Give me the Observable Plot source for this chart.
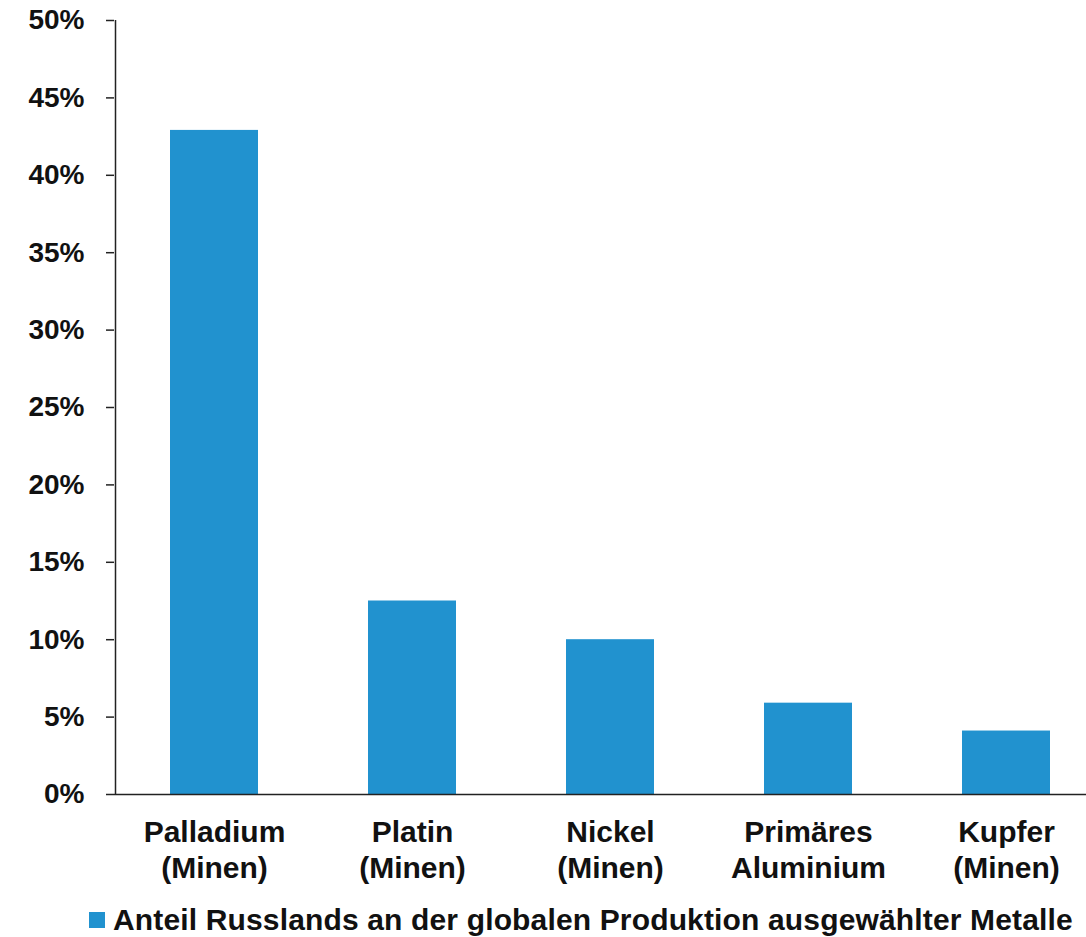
<!DOCTYPE html>
<html>
<head>
<meta charset="utf-8">
<script src="https://cdn.jsdelivr.net/npm/d3@7"></script>
<script src="https://cdn.jsdelivr.net/npm/@observablehq/plot@0.6"></script>
<style>
  html, body { margin: 0; padding: 0; background: #fff; }
  body { width: 1086px; height: 937px; overflow: hidden; font-family: "Liberation Sans", Arial, sans-serif; }
  #legend { display: flex; align-items: center; height: 30px; margin-top: 10px; padding-left: 89px; font-weight: bold; font-size: 30px; letter-spacing: 0.15px; color: #111; white-space: nowrap; }
  #legend .sw { width: 16px; height: 16px; background: #2192cf; margin-right: 8px; flex: none; }
</style>
</head>
<body>
<div id="chart"></div>
<div id="legend"><span class="sw"></span><span id="legendText"></span></div>
<script>
const categories = ["Palladium (Minen)", "Platin (Minen)", "Nickel (Minen)", "Primäres Aluminium", "Kupfer (Minen)"];
const tickLabels = ["Palladium\n(Minen)", "Platin\n(Minen)", "Nickel\n(Minen)", "Primäres\nAluminium", "Kupfer\n(Minen)"];
const values = [0.429, 0.125, 0.100, 0.059, 0.041];
const yTicks = [0, 0.05, 0.10, 0.15, 0.20, 0.25, 0.30, 0.35, 0.40, 0.45, 0.50];
const seriesName = "Anteil Russlands an der globalen Produktion ausgewählter Metalle";
const barColor = "#2192cf";

const data = categories.map((c, i) => ({category: c, value: values[i]}));
const labelOf = new Map(categories.map((c, i) => [c, tickLabels[i]]));

const H = 895;
const plot = Plot.plot({
  width: 1086,
  height: H,
  marginLeft: 114,
  marginRight: 0,
  marginTop: 20,
  marginBottom: H - 794,
  style: {fontFamily: '"Liberation Sans", Arial, sans-serif', color: "#111", background: "#fff"},
  x: {type: "band", domain: categories, range: [115, 1105], paddingInner: 0.5556, paddingOuter: 0.2778},
  y: {domain: [0, 0.5], label: null},
  marks: [
    Plot.barY(data, {x: "category", y: "value", fill: barColor}),
    Plot.ruleY([0], {stroke: "#222", strokeWidth: 1.5}),
    Plot.ruleX([categories[0]], {y1: 0, y2: 0.5, dx: -99, stroke: "#222", strokeWidth: 1.5}),
    Plot.axisY({ticks: yTicks, tickSize: 8, tickPadding: 22, tickFormat: d => Math.round(d * 100) + "%", fontSize: 28, fontWeight: "bold", label: null, stroke: "#222", strokeWidth: 1.5}),
    Plot.axisX({tickSize: 0, tickPadding: 23, tickFormat: d => labelOf.get(d), fontSize: 30, fontWeight: "bold", lineHeight: 1.17, label: null})
  ]
});
document.getElementById("chart").appendChild(plot);
document.getElementById("legendText").textContent = seriesName;
</script>
</body>
</html>
